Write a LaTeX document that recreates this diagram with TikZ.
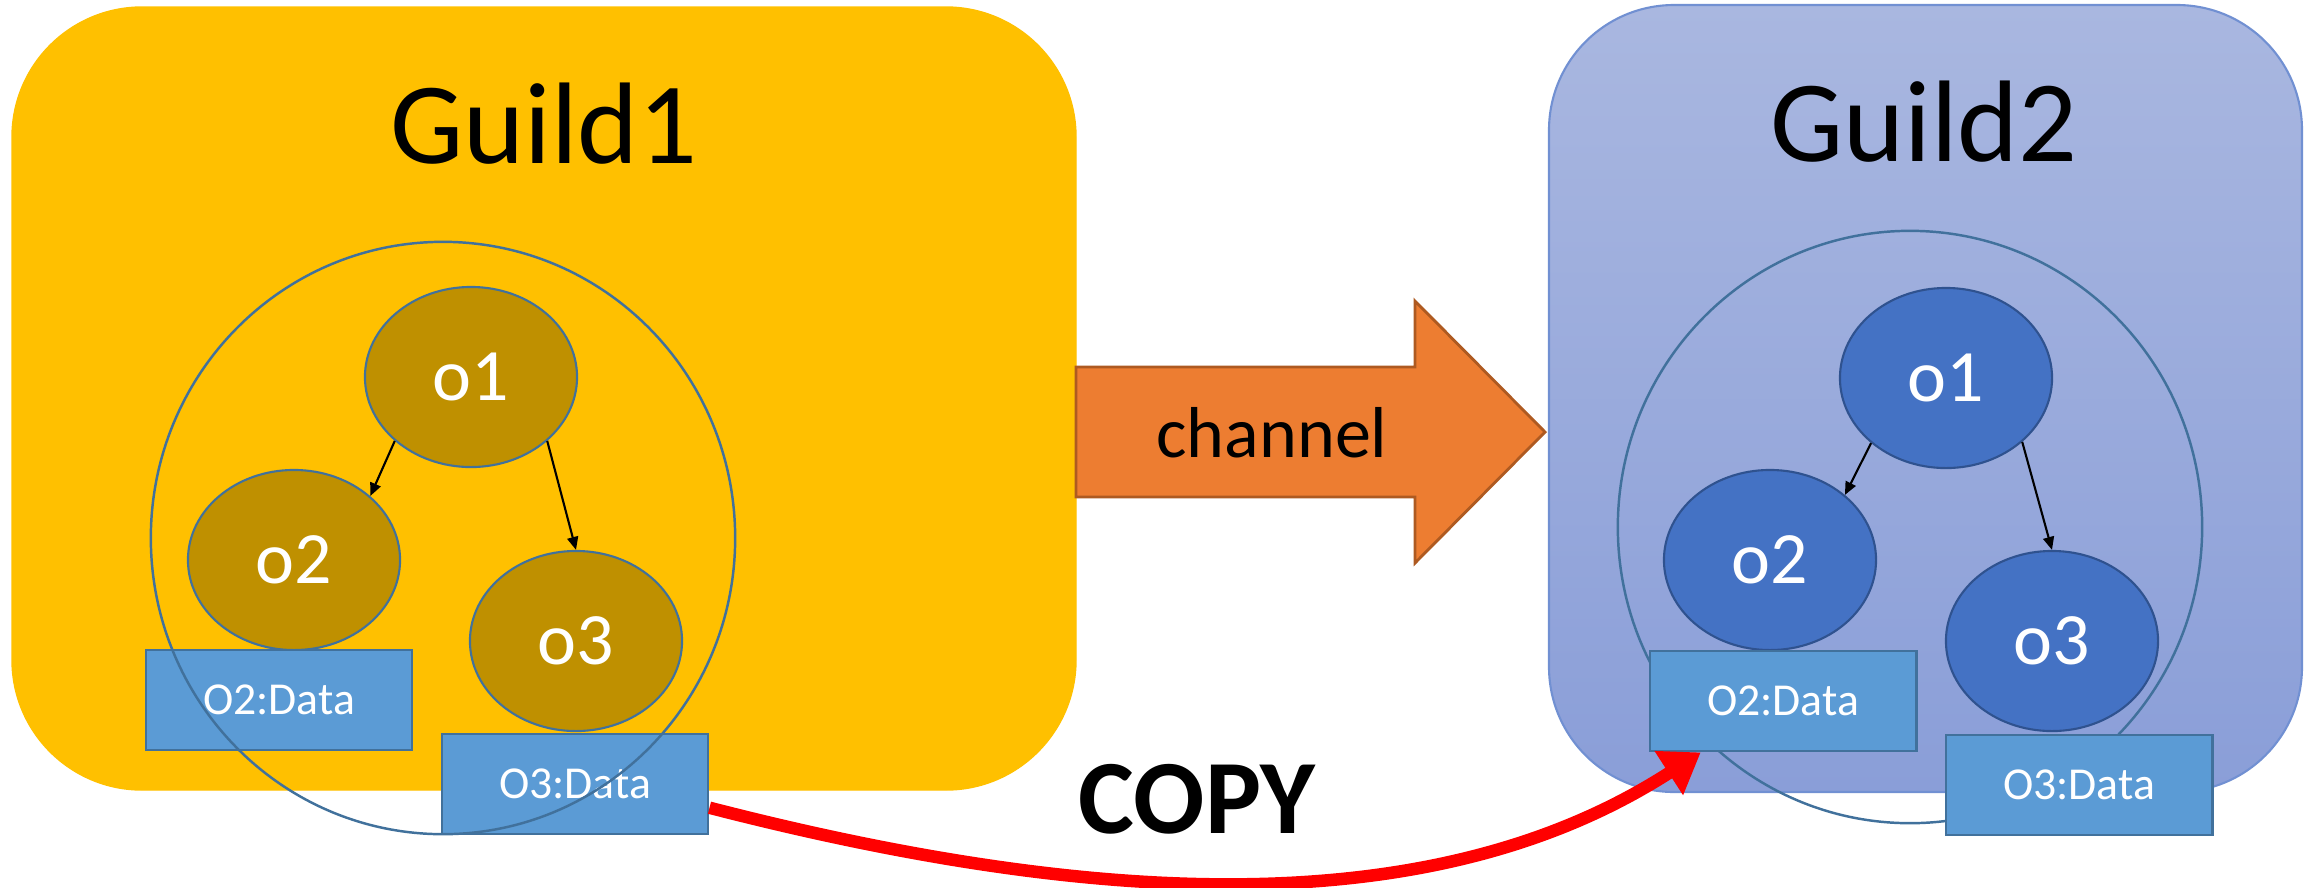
\documentclass[tikz,border=0pt]{standalone}
\usepackage{fontspec}
\setmainfont{Carlito}
\usepackage{tikz}
\usetikzlibrary{shapes.geometric,arrows.meta}
\definecolor{gold}{HTML}{FFC000}
\definecolor{darkgold}{HTML}{BF9000}
\definecolor{steel}{HTML}{41719C}
\definecolor{databox}{HTML}{5B9BD5}
\definecolor{objblue}{HTML}{4472C4}
\definecolor{objblueline}{HTML}{2F528F}
\definecolor{lavtop}{HTML}{A9B7E0}
\definecolor{lavbottom}{HTML}{8A9ED8}
\definecolor{lavline}{HTML}{7190D2}
\definecolor{chanfill}{HTML}{ED7D31}
\definecolor{chanline}{HTML}{AE5A21}

\begin{document}
\begin{tikzpicture}[x=0.01cm,y=-0.01cm,
    obj/.style={shape=ellipse,draw,line width=0.6pt,inner sep=0pt,minimum width=2.12cm,minimum height=1.8cm,text=white,font=\fontsize{21}{25}\selectfont},
    datum/.style={draw=steel,fill=databox,line width=0.8pt,inner sep=0pt,minimum width=2.66cm,minimum height=1cm,text=white,font=\fontsize{13}{16}\selectfont},
    ring/.style={shape=ellipse,draw=steel,line width=0.7pt,inner sep=0pt,minimum width=5.84cm,minimum height=5.92cm},
    title/.style={anchor=base,font=\fontsize{33}{40}\selectfont},
    link/.style={-{Triangle[length=0.13cm,width=0.11cm]},line width=0.6pt}]
    \useasboundingbox (0,0) rectangle (2311,887);
    % Guild1
    \draw[fill=gold,draw=gold,rounded corners=1.3cm] (12,7) rectangle (1076,790);
    \node[title] (guildA) at (544,163) {Guild1};
    \node[obj,fill=darkgold,draw=steel] (oA1) at (471,377) {o1};
    \node[obj,fill=darkgold,draw=steel] (oA2) at (294,560) {o2};
    \node[obj,fill=darkgold,draw=steel] (oA3) at (576,641) {o3};
    \draw[link] (oA1.220) -- (oA2.40);
    \draw[link] (oA1.320) -- (oA3.north);
    \node[datum] (dataA2) at (279,700) {O2:Data};
    \node[datum] (dataA3) at (575,784) {O3:Data};
    \node[ring] (ringA) at (443,538) {};
    % channel
    \draw[fill=chanfill,draw=chanline,line width=0.8pt] (1076,367) -- (1415,367) -- (1415,301) -- (1545,432) -- (1415,563) -- (1415,497) -- (1076,497) -- cycle;
    \node[anchor=base,font=\fontsize{20.5}{24}\selectfont] (chan) at (1272,457) {channel};
    % Guild2
    \shade[top color=lavtop,bottom color=lavbottom,rounded corners=1.25cm] (1549,5) rectangle (2302,792);
    \draw[lavline,line width=0.6pt,rounded corners=1.25cm] (1549,5) rectangle (2302,792);
    \node[title] (guildB) at (1924,161) {Guild2};
    \node[ring] (ringB) at (1910,527) {};
    \node[obj,fill=objblue,draw=objblueline] (oB1) at (1946,378) {o1};
    \node[obj,fill=objblue,draw=objblueline] (oB2) at (1770,560) {o2};
    \node[obj,fill=objblue,draw=objblueline] (oB3) at (2052,641) {o3};
    \draw[link] (oB1.221) -- (oB2.41);
    \draw[link] (oB1.320) -- (oB3.north);
    \node[datum] (dataB2) at (1783,701) {O2:Data};
    \node[datum] (dataB3) at (2079,785) {O3:Data};
    % copy
    \draw[red,line width=0.125cm,-{Triangle[length=0.38cm,width=0.5cm]}] (dataA3.350) .. controls +(400,103) and +(-260,168) .. (dataB2.212);
    \node[anchor=base,font=\bfseries\fontsize{30}{36}\selectfont] (copy) at (1197,833) {COPY};
\end{tikzpicture}
\end{document}
